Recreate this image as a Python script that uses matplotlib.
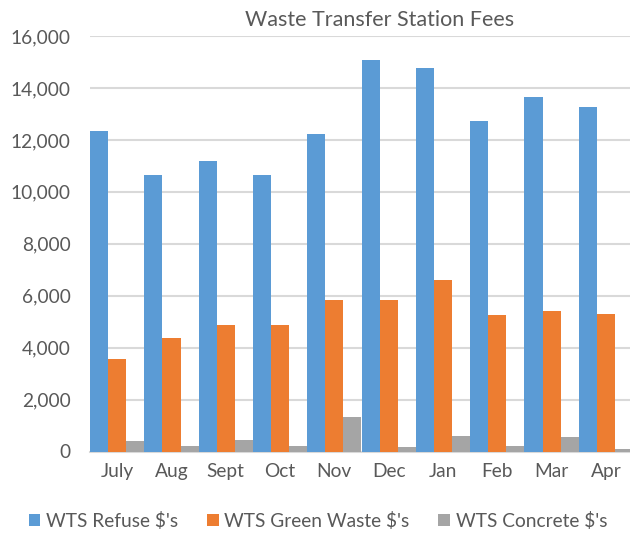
import numpy as np
import matplotlib.pyplot as plt

months = ['July', 'Aug', 'Sept', 'Oct', 'Nov', 'Dec', 'Jan', 'Feb', 'Mar', 'Apr']
refuse = [12350, 10630, 11170, 10630, 12210, 15060, 14750, 12710, 13670, 13250]
green = [3560, 4370, 4870, 4870, 5830, 5830, 6600, 5250, 5400, 5290]
concrete = [400, 210, 440, 210, 1330, 170, 600, 210, 560, 100]
series_names = ["WTS Refuse $'s", "WTS Green Waste $'s", "WTS Concrete $'s"]

plt.rcParams['font.family'] = ['Lato', 'DejaVu Sans']
text_col = '#595959'

fig = plt.figure(figsize=(6.3, 5.35), dpi=100)
ax = fig.add_axes([90 / 630, 83.5 / 535, 543 / 630, 415.5 / 535])

x = np.arange(len(months))
w = 1 / 3
colors = ['#5b9bd5', '#ed7d31', '#a5a5a5']
for i, (vals, name) in enumerate(zip([refuse, green, concrete], series_names)):
    ax.bar(x - 0.5 + w * (i + 0.5), vals, width=w, color=colors[i], label=name, zorder=3)

ax.set_xlim(-0.5, len(months) - 0.5)
ax.set_ylim(0, 16000)
ax.set_yticks(range(0, 16001, 2000))
ax.set_yticklabels([f'{v:,}' for v in range(0, 16001, 2000)])
ax.set_xticks(x)
ax.set_xticklabels(months)
ax.grid(axis='y', color='#d9d9d9', linewidth=1.5, zorder=0)
ax.tick_params(length=0, labelsize=13.8, colors=text_col)
ax.tick_params(axis='x', pad=8)
ax.tick_params(axis='y', pad=14)
for s in ['top', 'right', 'left']:
    ax.spines[s].set_visible(False)
ax.spines['bottom'].set_color('#d9d9d9')
ax.spines['bottom'].set_linewidth(1.5)

fig.text(380 / 630, 1 - 20 / 535, 'Waste Transfer Station Fees', ha='center', va='center',
         fontsize=15.5, color=text_col)

fig.legend(loc='center', bbox_to_anchor=(318 / 630, 1 - 521 / 535), ncol=3, frameon=False,
           fontsize=13.8, labelcolor=text_col, handlelength=0.6, handleheight=0.6,
           handletextpad=0.3, columnspacing=1.5)

fig.savefig('out.png', dpi=100)
